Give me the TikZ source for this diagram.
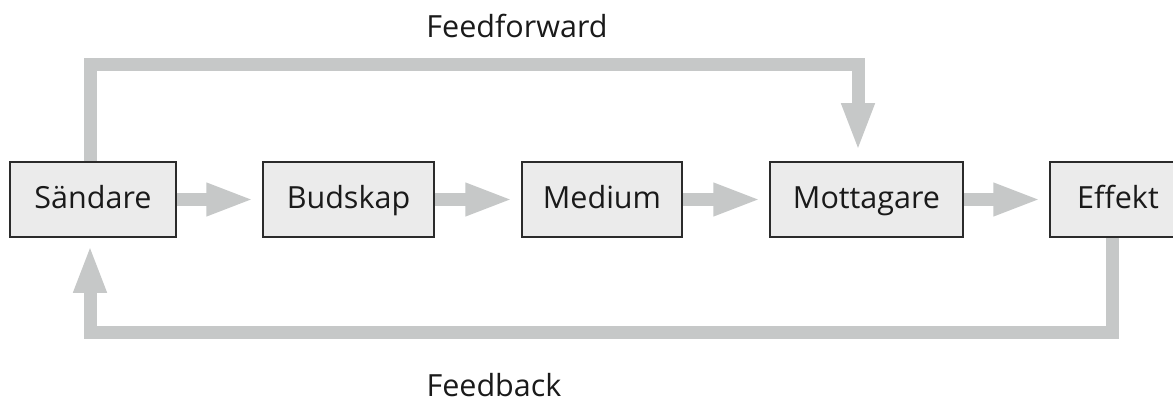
\documentclass[tikz,border=0pt]{standalone}
\usepackage{fontspec}
\setmainfont{Open Sans}
\usetikzlibrary{arrows.meta}
\definecolor{arrgray}{HTML}{C6C8C8}
\definecolor{boxfill}{HTML}{EBEBEB}
\definecolor{boxline}{HTML}{2B2B2B}
\definecolor{txt}{HTML}{1A1A1A}
\begin{document}
\begin{tikzpicture}[x=1pt,y=-1pt,
  box/.style={draw=boxline, line width=1.5pt, fill=boxfill, minimum height=75pt,
    inner sep=0pt, font=\fontsize{30.5}{32}\selectfont, text=txt,
    text height=22pt, text depth=5pt},
  flow/.style={draw=arrgray, line width=13pt, line join=miter,
    -{Triangle[length=48pt,width=30pt]}},
  lbl/.style={font=\fontsize{30.5}{32}\selectfont, text=txt, anchor=base}]
\useasboundingbox (0,0) rectangle (1173,401);
\clip (0,0) rectangle (1173,401);
\fill[white] (0,0) rectangle (1173,401);

\node[box, minimum width=166pt] (S) at (93,199.5) {Sändare};
\node[box, minimum width=171pt] (B) at (348.5,199.5) {Budskap};
\node[box, minimum width=160pt] (Me) at (602,199.5) {Medium};
\node[box, minimum width=193pt] (Mo) at (866.5,199.5) {Mottagare};
\node[box, minimum width=136pt] (E) at (1118,199.5) {Effekt\hspace{12pt}};

\coordinate (ffl) at (90,64.5);
\coordinate (ffr) at (858,64.5);
\coordinate (fbr) at (1112,332);
\coordinate (fbl) at (90,332);

\draw[flow, shorten >=8pt] (S.east) -- (B.west);
\draw[flow, shorten >=8pt] (B.east) -- (Me.west);
\draw[flow, shorten >=8pt] (Me.east) -- (Mo.west);
\draw[flow, shorten >=8pt] (Mo.east) -- (E.west);

\draw[flow, shorten >=10pt] (S.north -| ffl) -- (ffl) -- (ffr) -- (Mo.north -| ffr);
\draw[flow, shorten >=7pt] (E.south -| fbr) -- (fbr) -- (fbl) -- (S.south -| fbl);

\node[lbl] (ff) at (517,38) {Feedforward};
\node[lbl] (fb) at (494,396) {Feedback};
\end{tikzpicture}
\end{document}
